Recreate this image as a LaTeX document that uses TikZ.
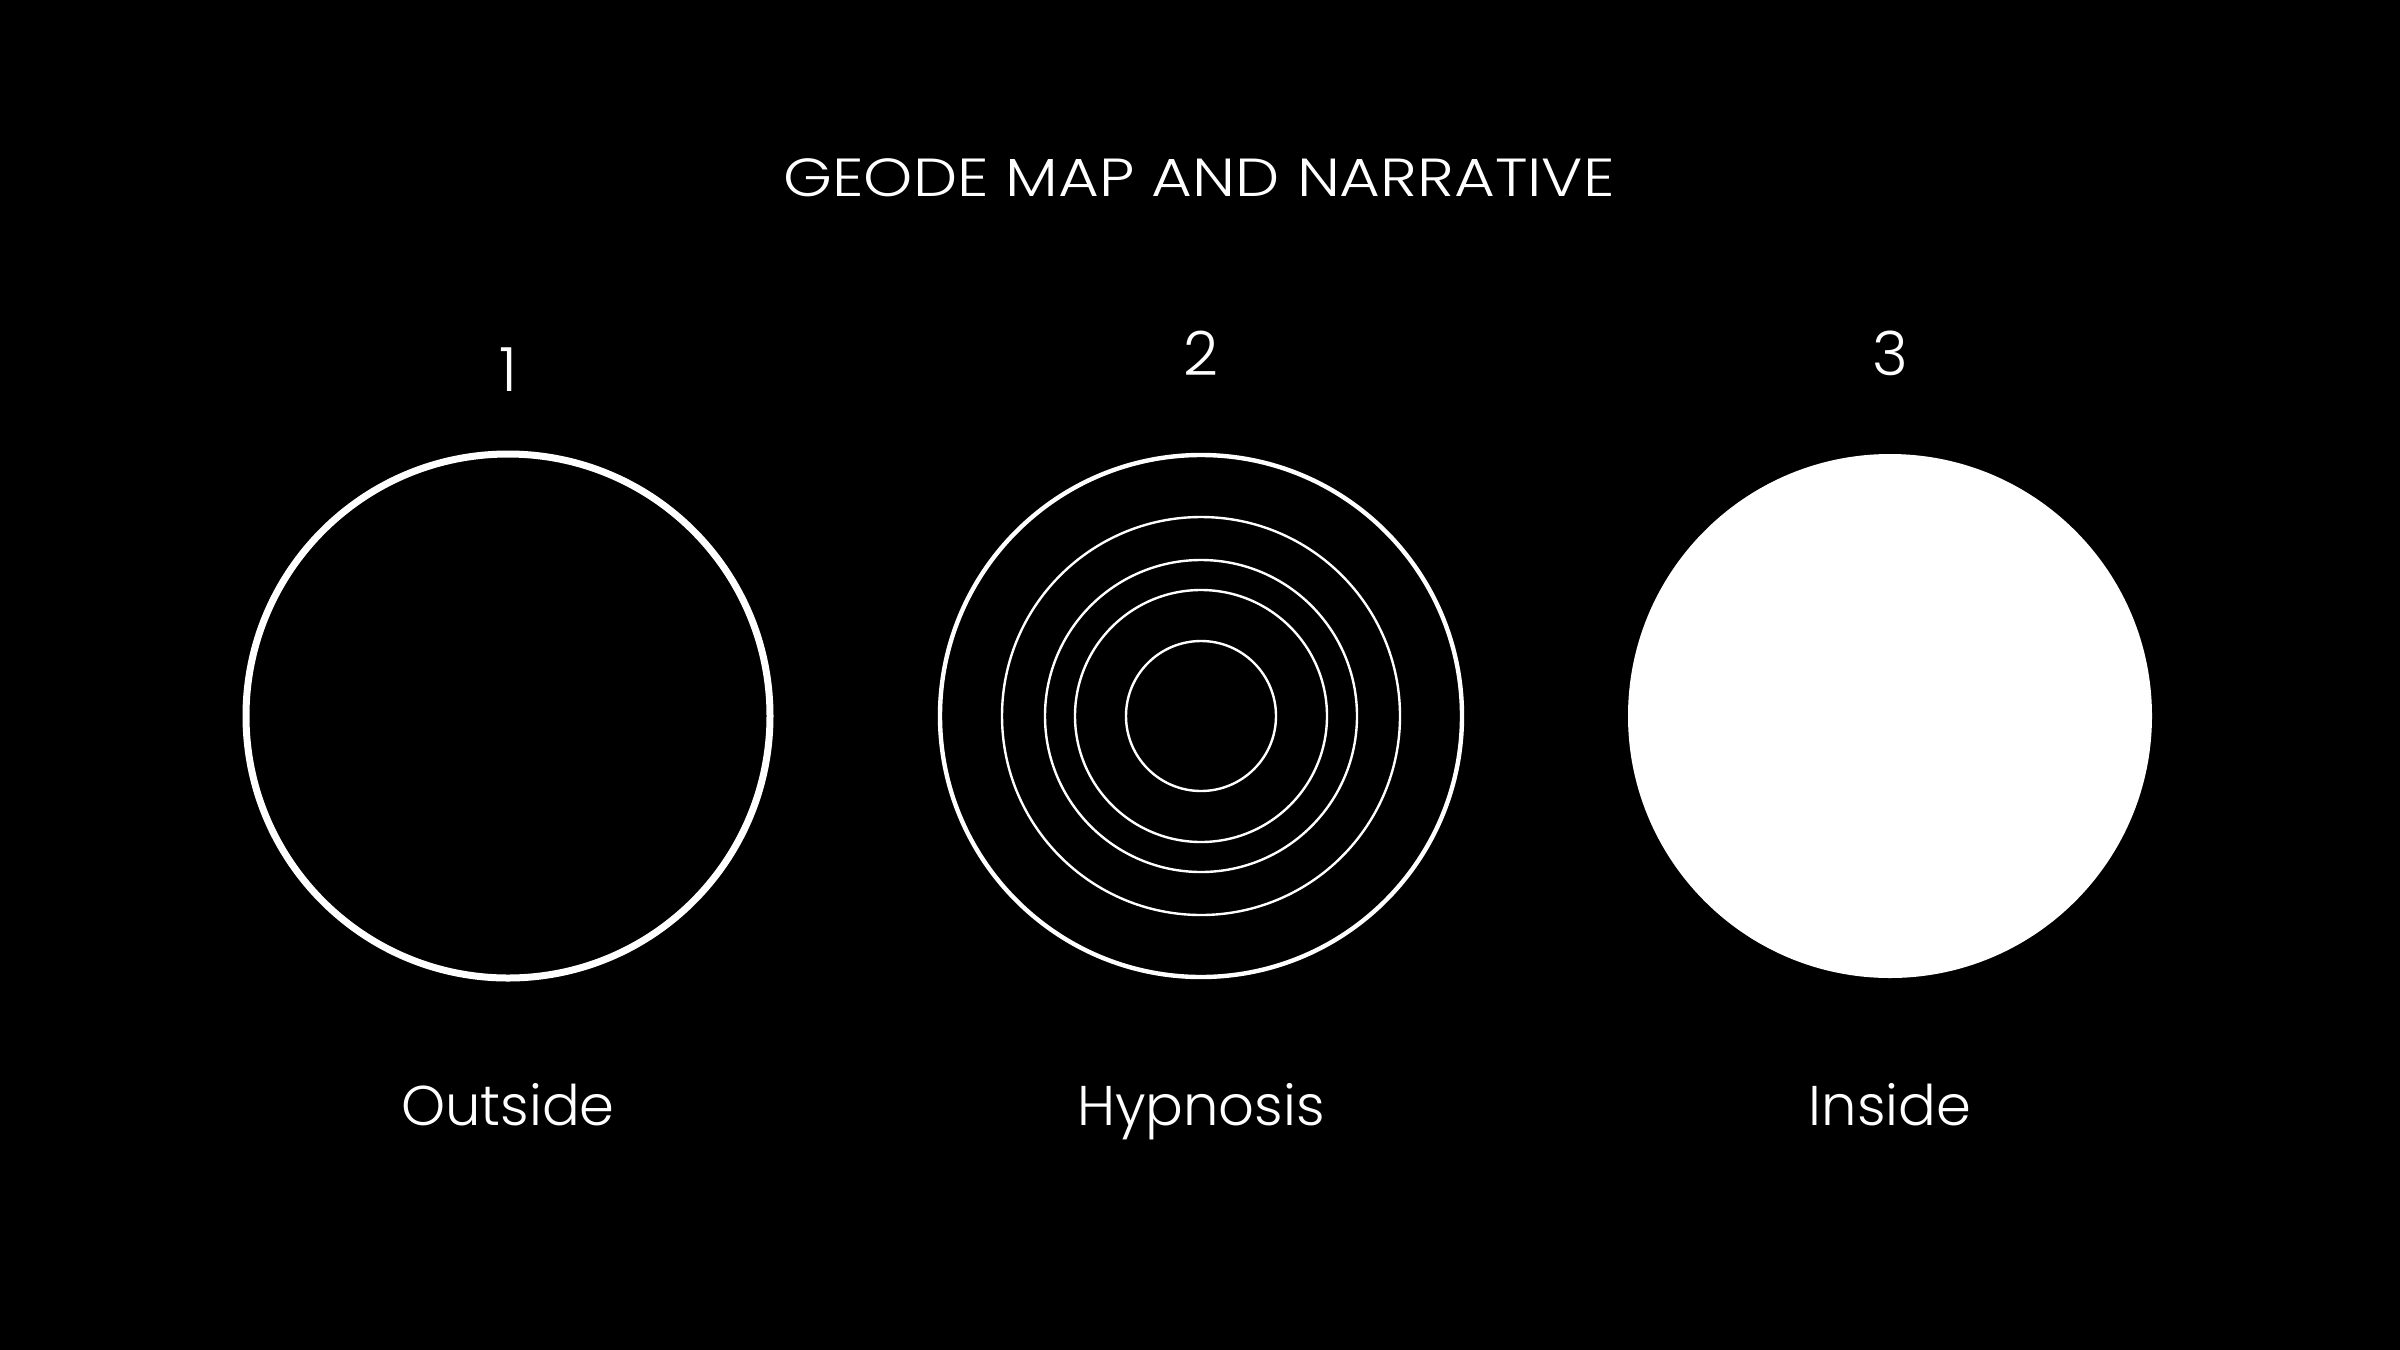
\documentclass[tikz,border=0pt]{standalone}
\usepackage{fontspec}
\setmainfont{Poppins}[UprightFont={* Light}]
\begin{document}
\begin{tikzpicture}[x=0.5pt,y=-0.5pt,
  ring/.style={circle,draw=white,inner sep=0pt,line width=1.2pt},
  lbl/.style={text=white,inner sep=0pt,anchor=base,font=\fontsize{28pt}{32pt}\selectfont},
  num/.style={text=white,inner sep=0pt,anchor=base,font=\fontsize{30.5pt}{34pt}\selectfont}]
\fill[black] (0,0) rectangle (2400,1350);
\useasboundingbox (0,0) rectangle (2400,1350);
\node[lbl,font=\fontsize{26.8pt}{30pt}\selectfont] (title) at (1199,196) {\scalebox{1.168}[1]{GEODE MAP AND NARRATIVE}};
% circle 1
\node[num] (n1) at (508,391) {1};
\node[ring,line width=3.5pt,minimum size=262pt] (c1) at (508,716) {};
\node[lbl] (l1) at (508,1125) {Outside};
% circle 2
\node[num] (n2) at (1201,375) {2};
\node[ring,line width=2.2pt,minimum size=261pt] (c2) at (1201,716) {};
\node[ring,minimum size=199pt] (c2a) at (1201,716) {};
\node[ring,minimum size=156pt] (c2b) at (1201,716) {};
\node[ring,minimum size=126pt] (c2c) at (1201,716) {};
\node[ring,minimum size=75pt] (c2d) at (1201,716) {};
\node[lbl] (l2) at (1201,1125) {Hypnosis};
% circle 3
\node[num] (n3) at (1890,375) {3};
\node[circle,fill=white,inner sep=0pt,minimum size=262pt] (c3) at (1890,716) {};
\node[lbl] (l3) at (1890,1125) {Inside};
\end{tikzpicture}
\end{document}
